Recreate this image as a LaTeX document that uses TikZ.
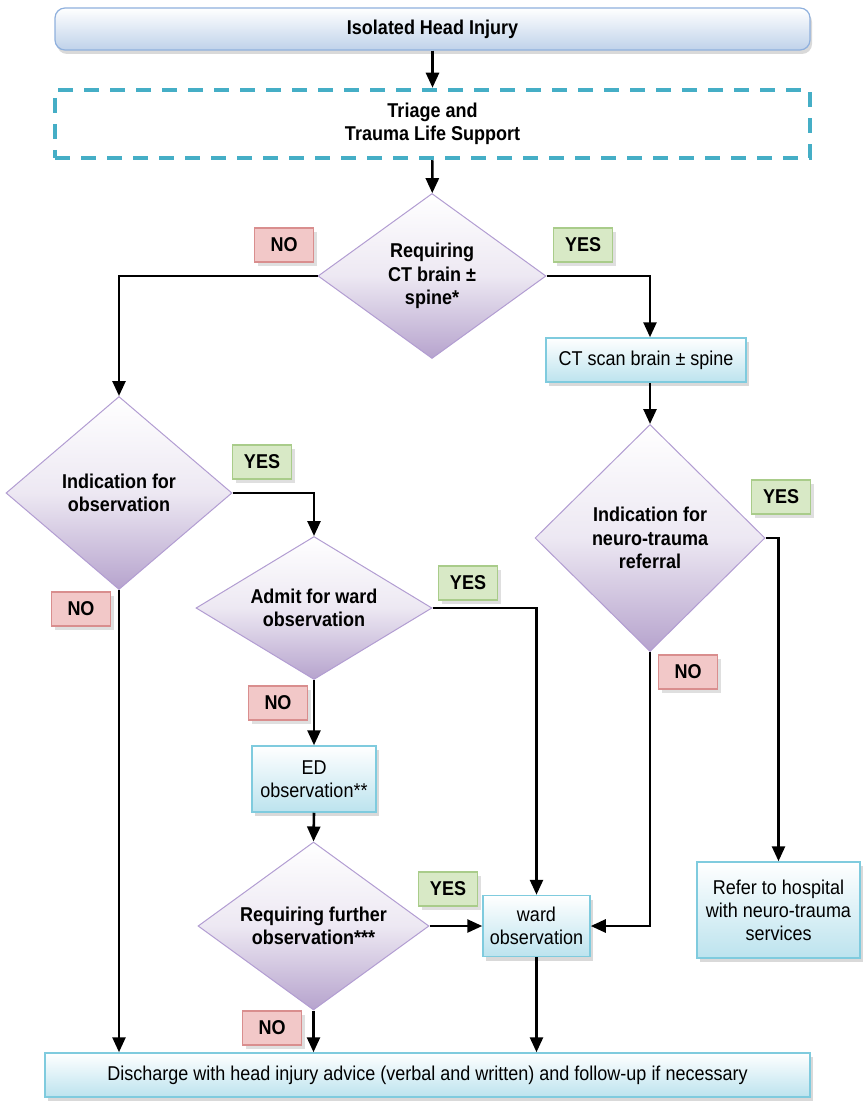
\documentclass[tikz,border=0pt]{standalone}
\usepackage{fontspec}
\setmainfont{Liberation Sans}[FakeStretch=0.9]
\usetikzlibrary{shapes.geometric,shadows,arrows.meta}
\definecolor{startline}{HTML}{8FB0DD}
\definecolor{startfill}{HTML}{BFD2EA}
\definecolor{dashline}{HTML}{45AEC6}
\definecolor{boxline}{HTML}{7FCBDE}
\definecolor{boxfill}{HTML}{BCE3EE}
\definecolor{dialine}{HTML}{B29DD2}
\definecolor{diafill}{HTML}{B6A3CD}
\definecolor{noline}{HTML}{D98E8E}
\definecolor{nofill}{HTML}{F2C8C8}
\definecolor{yesline}{HTML}{A9CC8A}
\definecolor{yesfill}{HTML}{D8E9C6}
\begin{document}
\begin{tikzpicture}[x=1pt,y=-1pt]

    \tikzset{
      start/.style={
        draw=startline, line width=1.2pt, rounded corners=10pt,
        top color=white, bottom color=startfill,
        drop shadow={shadow xshift=2pt, shadow yshift=-4pt, opacity=.3},
        font=\fontsize{20}{23}\selectfont\bfseries,
        minimum width=755, minimum height=42,
      },
      triage/.style={
        draw=dashline, line width=4.5pt, dash pattern=on 15pt off 11pt,
        font=\fontsize{20}{23}\selectfont\bfseries, align=center,
        minimum width=755, minimum height=68,
      },
      decision/.style={
        diamond, draw=dialine, line width=1pt, inner sep=0pt,
        top color=white, bottom color=diafill, middle color=diafill!25,
        font=\fontsize{20}{23.5}\selectfont\bfseries, align=center,
      },
      action/.style={
        draw=boxline, line width=1.5pt,
        top color=white, bottom color=boxfill,
        drop shadow={shadow xshift=3pt, shadow yshift=-4pt, opacity=.3},
        font=\fontsize{20}{23}\selectfont, align=center, inner sep=2pt,
      },
      answer/.style={
        draw, line width=1.2pt, minimum width=59, minimum height=34,
        drop shadow={shadow xshift=3pt, shadow yshift=-4pt, opacity=.25},
        font=\fontsize{20}{23}\selectfont\bfseries,
      },
      no/.style={answer, draw=noline, fill=nofill},
      yes/.style={answer, draw=yesline, fill=yesfill},
      arr/.style={line width=2.6pt, -{Triangle[length=15pt,width=13pt]}},
    }
    \useasboundingbox (0,0) rectangle (862,1110);

    % boxes
    \node[start] (head) at (432.5,29) {Isolated Head Injury};
    \node[triage] (triage) at (432.5,124) {Triage and\\Trauma Life Support};
    \node[decision, shape aspect=1.38, minimum width=228, minimum height=165] (ct) at (432,276) {Requiring\\CT brain ±\\spine*};
    \node[action, minimum width=200, minimum height=44] (scan) at (646,360) {CT scan brain ± spine};
    \node[decision, shape aspect=1.17, minimum width=226, minimum height=193] (obs) at (119,493) {Indication for\\observation};
    \node[decision, shape aspect=1.65, minimum width=236, minimum height=143] (admit) at (314,608) {Admit for ward\\observation};
    \node[decision, shape aspect=1.01, minimum width=230, minimum height=227] (neuro) at (650,538) {Indication for\\neuro-trauma\\referral};
    \node[action, minimum width=124, minimum height=66] (ed) at (314,779) {ED\\observation**};
    \node[decision, shape aspect=1.375, minimum width=231, minimum height=168] (further) at (313.5,926) {Requiring further\\observation***};
    \node[action, minimum width=107, minimum height=61] (ward) at (536.5,926) {ward\\observation};
    \node[action, minimum width=163, minimum height=96] (refer) at (778.5,910) {Refer to hospital\\with neuro-trauma\\services};
    \node[action, minimum width=765, minimum height=44] (dis) at (427.5,1075) {Discharge with head injury advice (verbal and written) and follow-up if necessary};

    % answers
    \node[no] (no1) at (284,245) {NO};
    \node[yes] (yes1) at (583,245) {YES};
    \node[yes] (yes2) at (262,462) {YES};
    \node[no] (no2) at (81,609) {NO};
    \node[yes] (yes3) at (468,583) {YES};
    \node[no] (no3) at (278,703) {NO};
    \node[yes] (yes4) at (781,497) {YES};
    \node[no] (no4) at (688,672) {NO};
    \node[yes] (yes5) at (448,889) {YES};
    \node[no] (no5) at (272,1028) {NO};

    % connectors
    \draw[arr] (head) -- (triage);
    \draw[arr] (triage) -- (ct);
    \draw[arr] (ct.west) -| (obs.north);
    \draw[arr] (ct.east) -| (scan.north -| neuro.north);
    \draw[arr] (scan.south -| neuro.north) -- (neuro.north);
    \draw[arr] (obs.east) -| (admit.north);
    \draw[arr] (obs.south) -- (obs.south |- dis.north);
    \draw[arr] (admit.east) -| (ward.north);
    \draw[arr] (admit.south) -- (ed.north);
    \draw[arr] (ed.south) -- (further.north);
    \draw[arr] (further.east) -- (ward.west);
    \draw[arr] (further.south) -- (further.south |- dis.north);
    \draw[arr] (ward.south) -- (ward.south |- dis.north);
    \draw[arr] (neuro.east) -| (refer.north);
    \draw[arr] (neuro.south) |- (ward.east);

\end{tikzpicture}
\end{document}
